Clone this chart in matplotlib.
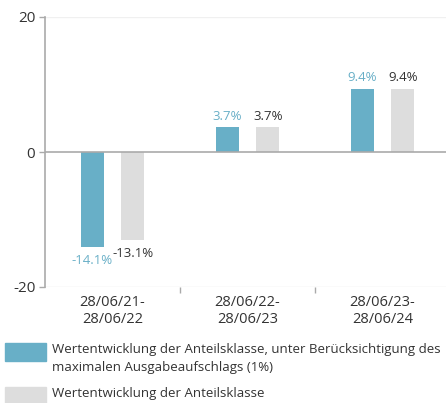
import matplotlib
matplotlib.use("Agg")
import matplotlib.pyplot as plt
from matplotlib.patches import Rectangle
import numpy as np

categories = ["28/06/21-\n28/06/22", "28/06/22-\n28/06/23", "28/06/23-\n28/06/24"]
with_fee = [-14.1, 3.7, 9.4]
without_fee = [-13.1, 3.7, 9.4]
series_names = ["Wertentwicklung der Anteilsklasse, unter Berücksichtigung des\nmaximalen Ausgabeaufschlags (1%)",
                "Wertentwicklung der Anteilsklasse"]
yticks = [-20, 0, 20]

blue = "#68afc7"
gray = "#dddddd"
txt = "#333333"

plt.rcParams['font.family'] = ['Open Sans', 'DejaVu Sans']

fig = plt.figure(figsize=(4.46, 4.03), dpi=100)
ax = fig.add_axes([45/446, 1-287/403, 405/446, 270/403])

x = np.arange(len(categories))
w = 0.17
off = 0.15
ax.bar(x - off, with_fee, w, color=blue, zorder=3)
ax.bar(x + off, without_fee, w, color=gray, zorder=3)

for xi, v in zip(x, with_fee):
    ax.annotate(f"{v}%", (xi - off, v), xytext=(0, 3 if v >= 0 else -5),
                textcoords="offset points", ha="center",
                va="bottom" if v >= 0 else "top", color=blue, fontsize=9.5)
for xi, v in zip(x, without_fee):
    ax.annotate(f"{v}%", (xi + off, v), xytext=(0, 3 if v >= 0 else -5),
                textcoords="offset points", ha="center",
                va="bottom" if v >= 0 else "top", color=txt, fontsize=9.5)

ax.set_xlim(-0.5, 2.5)
ax.set_ylim(-20, 20)
ax.set_yticks(yticks)
ax.set_yticklabels([str(t) for t in yticks], fontsize=11, color=txt)
ax.set_xticks([0.5, 1.5])
ax.set_xticklabels([])
ax.set_xticks(x, minor=True)
ax.set_xticklabels(categories, minor=True, fontsize=10.5, color=txt, linespacing=1.15)
ax.tick_params(axis='x', which='minor', length=0, pad=6)
ax.tick_params(axis='x', which='major', length=4, color="#aaaaaa", width=1)
ax.tick_params(axis='y', length=4, color="#aaaaaa", width=1, pad=3)

for s in ["top", "right", "bottom"]:
    ax.spines[s].set_visible(False)
ax.spines["left"].set_color("#aaaaaa")
ax.spines["left"].set_linewidth(1.2)
ax.axhline(20, color="#f0f0f0", lw=1, zorder=1)
ax.axhline(-20, color="#e6e6e6", lw=1, zorder=1)
ax.axhline(0, color="#aaaaaa", lw=1.2, zorder=4)

# legend
fig.patches.append(Rectangle((5/446, 1-361/403), 41/446, 18/403,
                             transform=fig.transFigure, color=blue))
fig.text(52/446, 1-343/403, series_names[0], fontsize=9.5, color=txt,
         va="top", ha="left", linespacing=1.5)
fig.patches.append(Rectangle((5/446, 1-405/403), 41/446, 18/403,
                             transform=fig.transFigure, color=gray))
fig.text(52/446, 1-387/403, series_names[1], fontsize=9.5, color=txt,
         va="top", ha="left")

fig.savefig("out.png", dpi=100)
